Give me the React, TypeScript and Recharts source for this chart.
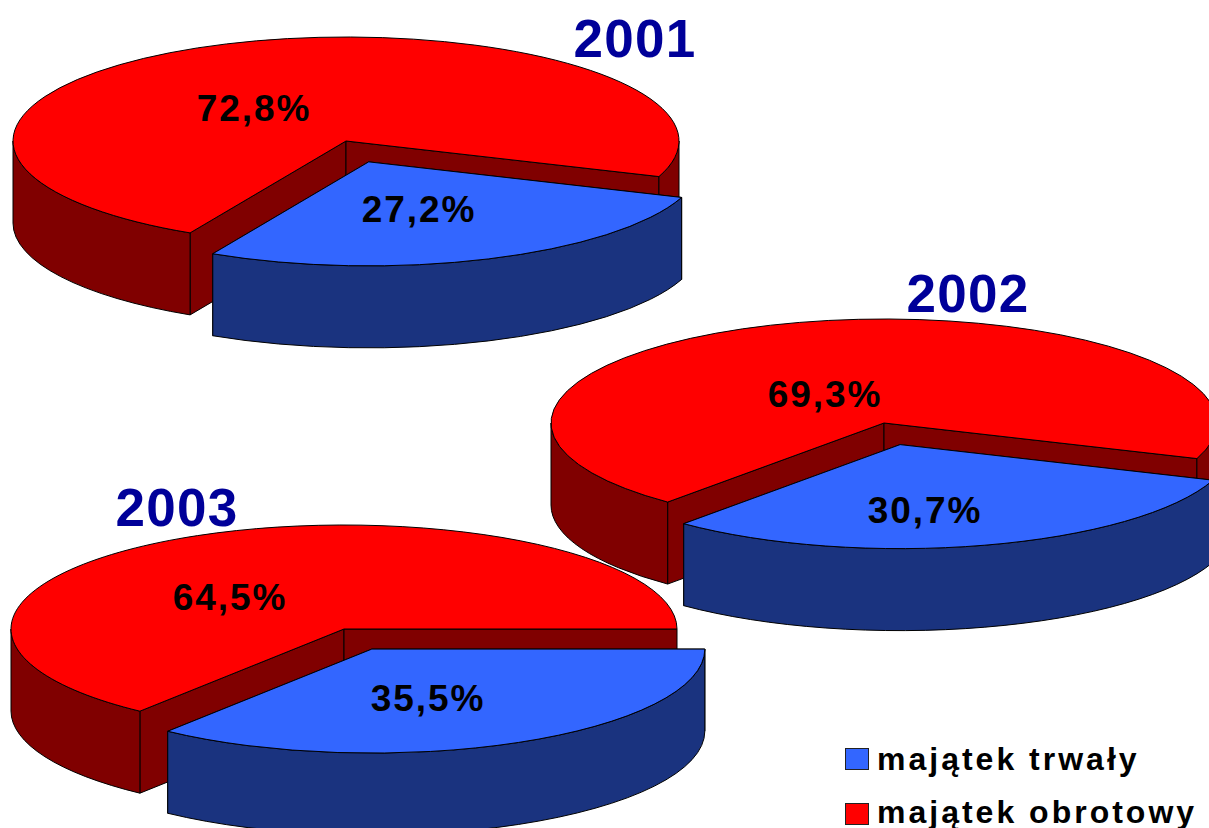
import React from "react";
import { PieChart, Pie, Legend } from "recharts";

const YEARS = ["2001", "2002", "2003"];
const FIXED_ASSETS = [27.2, 30.7, 35.5];
const CURRENT_ASSETS = [72.8, 69.3, 64.5];
const SERIES_NAMES = ["majątek trwały", "majątek obrotowy"];

// layout (not data)
const CENTERS = [
  { x: 346, y: 141 },
  { x: 884, y: 423 },
  { x: 344, y: 629 },
];
const ROTATION = [20, 20, 0];
const TITLE_POS = [
  { x: 635, y: 57 },
  { x: 968, y: 312 },
  { x: 177, y: 526 },
];
// label centre relative to pie centre: [red, blue]
const LABEL_OFFSETS = [
  [{ x: -92, y: -32.5 }, { x: 73, y: 68.5 }],
  [{ x: -59, y: -28.5 }, { x: 41, y: 87.5 }],
  [{ x: -114, y: -31.5 }, { x: 84, y: 69.5 }],
];

const RX = 333;
const RY = 104;
const DEPTH = 82;
const EXPLODE_X = 0.19;
const EXPLODE_Y = 0.215;
const FONT = '"Liberation Sans", Arial, sans-serif';
const COLORS = {
  blue: { top: "#3366ff", side: "#1a337f" },
  red: { top: "#ff0000", side: "#800000" },
};

const rad = (d: number) => (d * Math.PI) / 180;

function PieSlice3D(props: any) {
  const { cx, cy, startAngle, endAngle, payload } = props;
  const t1raw = -Math.max(startAngle, endAngle);
  const t2raw = -Math.min(startAngle, endAngle);
  const shift = Math.floor(t1raw / 360) * 360;
  const t1 = t1raw - shift;
  const t2 = t2raw - shift;
  const mid = rad((t1 + t2) / 2);
  const ox = cx + (payload.exploded ? EXPLODE_X : 0) * RX * Math.cos(mid);
  const oy = cy + (payload.exploded ? EXPLODE_Y : 0) * RY * Math.sin(mid);
  const p = (t: number, d = 0) =>
    `${(ox + RX * Math.cos(rad(t))).toFixed(2)} ${(oy + RY * Math.sin(rad(t)) + d).toFixed(2)}`;

  const top = `M${ox} ${oy} L${p(t1)} A${RX} ${RY} 0 ${t2 - t1 > 180 ? 1 : 0} 1 ${p(t2)} Z`;
  const radial = (t: number) =>
    `M${ox} ${oy} L${p(t)} L${p(t, DEPTH)} L${ox} ${oy + DEPTH} Z`;

  const walls: string[] = [];
  for (const [a0, b0] of [[0, 180], [360, 540]]) {
    const a = Math.max(a0, t1);
    const b = Math.min(b0, t2);
    if (b > a) {
      walls.push(
        `M${p(a)} A${RX} ${RY} 0 0 1 ${p(b)} L${p(b, DEPTH)} A${RX} ${RY} 0 0 0 ${p(a, DEPTH)} Z`
      );
    }
  }
  const style = { stroke: "#000", strokeWidth: 1, strokeLinejoin: "round" as const };
  return (
    <g>
      <path d={radial(t1)} fill={payload.side} {...style} />
      <path d={radial(t2)} fill={payload.side} {...style} />
      {walls.map((d, i) => (
        <path key={i} d={d} fill={payload.side} {...style} />
      ))}
      <path d={top} fill={payload.top} {...style} />
    </g>
  );
}

const pct = (v: number) => v.toFixed(1).replace(".", ",") + "%";

const makeLabel = (yearIdx: number) => (props: any) => {
  const { cx, cy, index, value } = props;
  const off = LABEL_OFFSETS[yearIdx][index];
  return (
    <text
      x={cx + off.x}
      y={cy + off.y}
      textAnchor="middle"
      dominantBaseline="central"
      fontFamily={FONT}
      fontWeight="bold"
      fontSize={37}
      letterSpacing={1.9}
      fill="#000"
    >
      {pct(value)}
    </text>
  );
};

const LegendBox = () => (
  <div style={{ position: "relative", width: 1209, height: 828, fontFamily: FONT }}>
    {SERIES_NAMES.map((name, i) => (
      <div key={name}>
        <div
          style={{
            position: "absolute",
            left: 845,
            top: i === 0 ? 748 : 803,
            width: 22,
            height: 20,
            boxSizing: "content-box",
            background: i === 0 ? COLORS.blue.top : COLORS.red.top,
            border: "1px solid #222",
          }}
        />
        <div
          style={{
            position: "absolute",
            left: 877,
            top: i === 0 ? 741 : 794,
            fontSize: 32,
            lineHeight: "36px",
            fontWeight: "bold",
            letterSpacing: 3,
            color: "#000",
            whiteSpace: "nowrap",
          }}
        >
          {name}
        </div>
      </div>
    ))}
  </div>
);

export default function App() {
  return (
    <div style={{ position: "fixed", left: 0, top: 0, width: 1209, height: 828, overflow: "hidden", background: "#fff" }}>
      <PieChart width={1209} height={828} margin={{ top: 0, right: 0, bottom: 0, left: 0 }}>
        {YEARS.map((year, i) => {
          const data = [
            { name: SERIES_NAMES[1], value: CURRENT_ASSETS[i], top: COLORS.red.top, side: COLORS.red.side, exploded: false, fill: COLORS.red.top },
            { name: SERIES_NAMES[0], value: FIXED_ASSETS[i], top: COLORS.blue.top, side: COLORS.blue.side, exploded: true, fill: COLORS.blue.top },
          ];
          const start = -(ROTATION[i] + FIXED_ASSETS[i] * 3.6);
          return (
            <Pie
              key={year}
              data={data}
              dataKey="value"
              nameKey="name"
              cx={CENTERS[i].x}
              cy={CENTERS[i].y}
              innerRadius={0}
              outerRadius={RX}
              startAngle={start}
              endAngle={start - 360}
              paddingAngle={0}
              isAnimationActive={false}
              shape={PieSlice3D}
              label={makeLabel(i)}
              labelLine={false}
              legendType="none"
            />
          );
        })}
        {YEARS.map((year, i) => (
          <text
            key={year}
            x={TITLE_POS[i].x}
            y={TITLE_POS[i].y}
            textAnchor="middle"
            fontFamily={FONT}
            fontWeight="bold"
            fontSize={53}
            letterSpacing={1.3}
            fill="#000099"
          >
            {year}
          </text>
        ))}
        <Legend content={<LegendBox />} wrapperStyle={{ position: "absolute", left: 0, top: 0, width: 1209, height: 828, pointerEvents: "none" }} />
      </PieChart>
    </div>
  );
}
